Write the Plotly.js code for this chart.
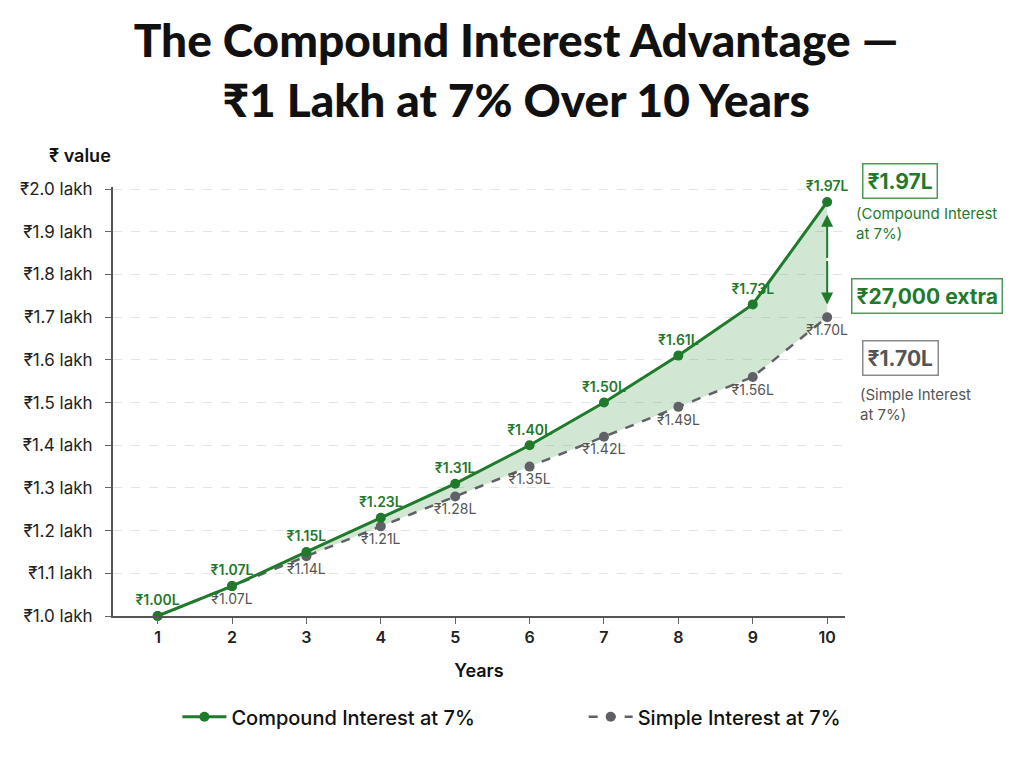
<!DOCTYPE html>
<html>
<head>
<meta charset="utf-8">
<script src="https://cdn.plot.ly/plotly-3.0.1.min.js"></script>
<style>
  html, body { margin: 0; padding: 0; background: #ffffff; }
  #chart { width: 1024px; height: 768px; }
</style>
</head>
<body>
<div id="chart"></div>
<script>
// Growth of ₹1 lakh at 7% — values in lakh
const years = [1, 2, 3, 4, 5, 6, 7, 8, 9, 10];
const compoundValues = [1.00, 1.07, 1.15, 1.23, 1.31, 1.40, 1.50, 1.61, 1.73, 1.97];
const simpleValues = [1.00, 1.07, 1.14, 1.21, 1.28, 1.35, 1.42, 1.49, 1.56, 1.70];
const yTickValues = [1.0, 1.1, 1.2, 1.3, 1.4, 1.5, 1.6, 1.7, 1.8, 1.9, 2.0];
const yTickLabels = yTickValues.map(v => '₹' + v.toFixed(1) + ' lakh');

const GREEN = '#1f7a2c';
const GREY = '#5f6166';
const FONT = 'Inter, "Noto Sans", sans-serif';
const TITLE_FONT = 'Lato, Inter, "Noto Sans", sans-serif';

const fmt = v => '₹' + v.toFixed(2) + 'L';

// Simple-interest labels (year 1 shares the green start label)
const simpleText = simpleValues.map((v, i) => i === 0 ? '' : fmt(v));

const simpleTrace = {
  x: years, y: simpleValues,
  name: 'Simple Interest at 7%',
  legend: 'legend2',
  mode: 'lines+markers+text',
  line: { color: GREY, width: 2.5, dash: 'dash' },
  marker: { color: GREY, size: 10 },
  text: simpleText,
  textposition: 'bottom center',
  textfont: { family: FONT, size: 14, color: '#555555' },
  cliponaxis: false,
  hoverinfo: 'x+y'
};

// shaded gap between the two curves
const gapFill = {
  x: years, y: compoundValues,
  mode: 'lines',
  line: { width: 0, color: GREEN },
  fill: 'tonexty',
  fillcolor: 'rgba(76, 160, 80, 0.25)',
  showlegend: false,
  hoverinfo: 'skip'
};

const compoundTrace = {
  x: years, y: compoundValues,
  name: 'Compound Interest at 7%',
  legend: 'legend',
  mode: 'lines+markers+text',
  line: { color: GREEN, width: 3 },
  marker: { color: GREEN, size: 10 },
  text: compoundValues.map(fmt),
  textposition: 'top center',
  textfont: { family: FONT, size: 14, color: GREEN, weight: 600 },
  cliponaxis: false,
  hoverinfo: 'x+y'
};

const last = years.length - 1;
const topVal = compoundValues[last];
const lowVal = simpleValues[last];
const midVal = (topVal + lowVal) / 2;
const gap = Math.round((topVal - lowVal) * 100000);

const annotations = [
  {
    xref: 'paper', yref: 'paper', x: -0.045, y: 1.045,
    text: '₹ value', showarrow: false, xanchor: 'center', yanchor: 'bottom',
    font: { family: FONT, size: 18, color: '#111111', weight: 600 }
  },
  // double-headed gap arrow at year 10
  {
    x: years[last], y: topVal - 0.03, ax: years[last], ay: midVal,
    xref: 'x', yref: 'y', axref: 'x', ayref: 'y',
    showarrow: true, arrowhead: 2, arrowsize: 1.2, arrowwidth: 2, arrowcolor: GREEN, text: ''
  },
  {
    x: years[last], y: lowVal + 0.03, ax: years[last], ay: midVal,
    xref: 'x', yref: 'y', axref: 'x', ayref: 'y',
    showarrow: true, arrowhead: 2, arrowsize: 1.2, arrowwidth: 2, arrowcolor: GREEN, text: ''
  },
  // right-side callouts
  {
    xref: 'paper', yref: 'paper', x: 1.023, y: 1.014, xanchor: 'left', yanchor: 'middle',
    text: fmt(topVal), showarrow: false,
    font: { family: FONT, size: 21, color: GREEN, weight: 700 },
    bordercolor: '#4f9a58', borderwidth: 1.5, borderpad: 4, bgcolor: '#ffffff'
  },
  {
    xref: 'paper', yref: 'paper', x: 1.012, y: 0.914, xanchor: 'left', yanchor: 'middle', align: 'left',
    text: '(Compound Interest<br>at 7%)', showarrow: false,
    font: { family: FONT, size: 15, color: GREEN }
  },
  {
    xref: 'paper', yref: 'paper', x: 1.008, y: 0.746, xanchor: 'left', yanchor: 'middle',
    text: '₹' + gap.toLocaleString('en-IN') + ' extra', showarrow: false,
    font: { family: FONT, size: 21, color: GREEN, weight: 700 },
    bordercolor: '#4f9a58', borderwidth: 1.5, borderpad: 4, bgcolor: '#ffffff'
  },
  {
    xref: 'paper', yref: 'paper', x: 1.023, y: 0.601, xanchor: 'left', yanchor: 'middle',
    text: fmt(lowVal), showarrow: false,
    font: { family: FONT, size: 21, color: '#555555', weight: 700 },
    bordercolor: '#8a8a8a', borderwidth: 1.5, borderpad: 4, bgcolor: '#ffffff'
  },
  {
    xref: 'paper', yref: 'paper', x: 1.018, y: 0.494, xanchor: 'left', yanchor: 'middle', align: 'left',
    text: '(Simple Interest<br>at 7%)', showarrow: false,
    font: { family: FONT, size: 15, color: '#555555' }
  }
];

const legendCommon = {
  orientation: 'h', yanchor: 'middle', y: -0.235, xanchor: 'left',
  font: { family: FONT, size: 20, color: '#111111', weight: 500 },
  itemwidth: 44, bgcolor: 'rgba(0,0,0,0)'
};

const layout = {
  width: 1024, height: 768,
  paper_bgcolor: '#ffffff', plot_bgcolor: '#ffffff',
  margin: { l: 113, r: 179, t: 187, b: 152 },
  title: {
    text: 'The Compound Interest Advantage —<br>₹1 Lakh at 7% Over 10 Years',
    x: 0.504, xanchor: 'center', xref: 'container',
    y: 0.926, yanchor: 'middle', yref: 'container',
    font: { family: TITLE_FONT, size: 46, color: '#111111', weight: 900 }
  },
  xaxis: {
    range: [0.4, 10.24],
    tickvals: years,
    ticktext: years.map(String),
    tickfont: { family: FONT, size: 16, color: '#222222', weight: 600 },
    ticks: 'outside', ticklen: 6, tickcolor: '#666666',
    showline: true, linecolor: '#555555', linewidth: 2,
    showgrid: false, zeroline: false,
    title: { text: 'Years', font: { family: FONT, size: 18, color: '#111111', weight: 600 }, standoff: 18 }
  },
  yaxis: {
    range: [1.0, 2.005],
    tickvals: yTickValues,
    ticktext: yTickLabels,
    tickfont: { family: FONT, size: 17, color: '#222222' },
    ticks: 'outside', ticklen: 6, tickcolor: '#666666',
    ticklabelstandoff: 9,
    showline: true, linecolor: '#555555', linewidth: 2,
    showgrid: true, gridcolor: '#e4e4e4', griddash: 'dash', gridwidth: 1,
    zeroline: false
  },
  legend: Object.assign({}, legendCommon, { x: 0.088 }),
  legend2: Object.assign({}, legendCommon, { x: 0.643 }),
  showlegend: true,
  annotations: annotations
};

Plotly.newPlot('chart', [simpleTrace, gapFill, compoundTrace], layout, { displayModeBar: false, staticPlot: true });
</script>
</body>
</html>
